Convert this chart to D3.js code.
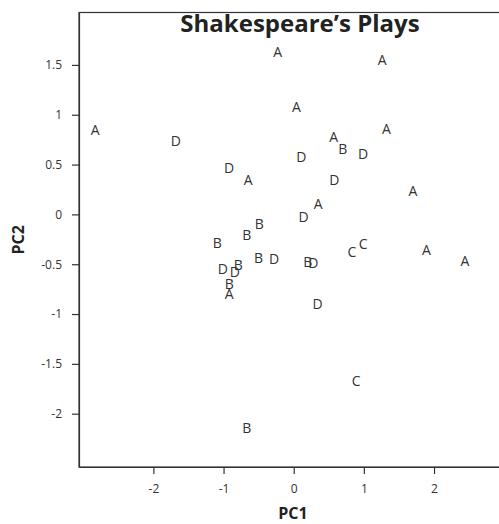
<!DOCTYPE html>
<html>
<head>
<meta charset="utf-8">
<script src="https://cdn.jsdelivr.net/npm/d3@7"></script>
<style>
  body { margin: 0; background: #fff; }
  svg { display: block; font-family: "Open Sans", sans-serif; }
</style>
</head>
<body>
<svg id="chart"></svg>
<script>
// play groups and their principal component scores
const groups = ["A","A","A","A","A","A","A","A","A","A","A","A",
                "B","B","B","B","B","B","B","B","B",
                "C","C","C",
                "D","D","D","D","D","D","D","D","D","D","D"];
const pc1 = [-0.23, 1.26, 0.04, -2.83, 1.32, 0.57, -0.65, 1.70, 0.35, 1.89, 2.44, -0.92,
             0.70, -0.49, -0.67, -1.09, -0.50, 0.20, -0.79, -0.92, -0.67,
             0.99, 0.83, 0.89,
             -1.68, 0.99, 0.11, -0.92, 0.58, 0.14, -0.28, 0.28, -1.01, -0.84, 0.34];
const pc2 = [1.63, 1.55, 1.08, 0.85, 0.86, 0.78, 0.35, 0.24, 0.11, -0.35, -0.46, -0.79,
             0.66, -0.09, -0.20, -0.28, -0.43, -0.47, -0.50, -0.69, -2.14,
             -0.29, -0.37, -1.67,
             0.74, 0.61, 0.58, 0.47, 0.35, -0.02, -0.44, -0.48, -0.54, -0.57, -0.89];
const xTicks = [-2, -1, 0, 1, 2];
const yTicks = [-2, -1.5, -1, -0.5, 0, 0.5, 1, 1.5];

const width = 499, height = 524;
const margin = {top: 12.5, left: 79, right: -8, bottom: 57};
const w = width - margin.left - margin.right;
const h = height - margin.top - margin.bottom;

const svg = d3.select("#chart").attr("width", width).attr("height", height);
const g = svg.append("g").attr("transform", `translate(${margin.left},${margin.top})`);

const x = d3.scaleLinear().domain([-3.06, 3.04]).range([0, w]);
const y = d3.scaleLinear().domain([-2.535, 2.026]).range([h, 0]);

// frame
g.append("rect")
    .attr("width", w).attr("height", h)
    .attr("fill", "none").attr("stroke", "#333").attr("stroke-width", 1.2);

const xAxis = g.append("g")
    .attr("transform", `translate(0,${h})`)
    .call(d3.axisBottom(x).tickValues(xTicks).tickSize(7).tickSizeOuter(0).tickPadding(10).tickFormat(d => String(d)));
const yAxis = g.append("g")
    .call(d3.axisLeft(y).tickValues(yTicks).tickSize(7).tickSizeOuter(0).tickPadding(10).tickFormat(d => String(d)));

[xAxis, yAxis].forEach(a => {
    a.select(".domain").attr("stroke", "#333").attr("stroke-width", 1.2);
    a.selectAll(".tick line").attr("stroke", "#333").attr("stroke-width", 1.2);
    a.selectAll(".tick text")
        .attr("fill", "#333")
        .style("font-size", "12px")
        .style("font-family", "'Open Sans', sans-serif");
});

// point labels
g.selectAll("text.pt")
    .data(groups)
    .join("text")
    .attr("class", "pt")
    .attr("x", (d, i) => x(pc1[i]))
    .attr("y", (d, i) => y(pc2[i]))
    .attr("text-anchor", "middle")
    .attr("dominant-baseline", "central")
    .attr("fill", "#333")
    .style("font-size", "14px")
    .text(d => d);

svg.append("text")
    .attr("x", 300).attr("y", 32)
    .attr("text-anchor", "middle")
    .attr("fill", "#222")
    .style("font-size", "24px")
    .style("font-weight", "bold")
    .text("Shakespeare’s Plays");

svg.append("text")
    .attr("x", margin.left + w / 2).attr("y", 519)
    .attr("text-anchor", "middle")
    .attr("fill", "#222")
    .style("font-size", "16px")
    .style("font-weight", "bold")
    .text("PC1");

svg.append("text")
    .attr("transform", `translate(24,${margin.top + h / 2}) rotate(-90)`)
    .attr("text-anchor", "middle")
    .attr("fill", "#222")
    .style("font-size", "16px")
    .style("font-weight", "bold")
    .text("PC2");
</script>
</body>
</html>
